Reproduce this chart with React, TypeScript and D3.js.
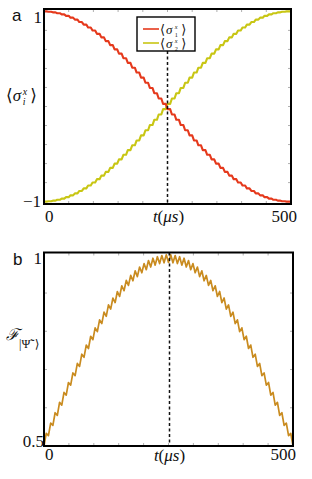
import React from "react";
import * as d3 from "d3";

// ---------- data ----------
const T_END = 500;
const xTicks = [0, 50, 100, 150, 200, 250, 300, 350, 400, 450, 500];
const yTicksA = [-0.8, -0.6, -0.4, -0.2, 0, 0.2, 0.4, 0.6, 0.8];
const yTicksB = [0.6, 0.7, 0.8, 0.9];
const markerT = 250;

// plateau values of the stepped <sigma_1^x> and <sigma_2^x> curves
const sigma1 = [
  1.0, 0.996, 0.99, 0.981, 0.968, 0.953, 0.934, 0.913, 0.888, 0.861,
  0.831, 0.799, 0.764, 0.727, 0.687, 0.645, 0.601, 0.556, 0.508, 0.459,
  0.408, 0.357, 0.304, 0.25, 0.195, 0.14, 0.084, 0.028,
  -0.028, -0.084, -0.14, -0.195, -0.25, -0.304, -0.357, -0.408,
  -0.459, -0.508, -0.556, -0.601, -0.645, -0.687, -0.727, -0.764, -0.799,
  -0.831, -0.861, -0.888, -0.913, -0.934, -0.953, -0.968, -0.981, -0.99,
  -0.996, -1.0,
];
const sigma2 = [
  -1.0, -0.996, -0.99, -0.981, -0.968, -0.953, -0.934, -0.913, -0.888, -0.861,
  -0.831, -0.799, -0.764, -0.727, -0.687, -0.645, -0.601, -0.556, -0.508, -0.459,
  -0.408, -0.357, -0.304, -0.25, -0.195, -0.14, -0.084, -0.028,
  0.028, 0.084, 0.14, 0.195, 0.25, 0.304, 0.357, 0.408,
  0.459, 0.508, 0.556, 0.601, 0.645, 0.687, 0.727, 0.764, 0.799,
  0.831, 0.861, 0.888, 0.913, 0.934, 0.953, 0.968, 0.981, 0.99,
  0.996, 1.0,
];

// fidelity: alternating troughs / peaks of the zig-zag
const fidelity = [
  0.5, 0.533, 0.527, 0.56, 0.554, 0.587, 0.58, 0.614, 0.607, 0.64,
  0.633, 0.666, 0.659, 0.691, 0.684, 0.716, 0.708, 0.74, 0.732, 0.764,
  0.755, 0.787, 0.778, 0.809, 0.799, 0.83, 0.82, 0.85, 0.839, 0.869,
  0.858, 0.887, 0.875, 0.904, 0.891, 0.919, 0.906, 0.933, 0.92, 0.946,
  0.932, 0.958, 0.943, 0.968, 0.953, 0.977, 0.961, 0.985, 0.968, 0.991,
  0.973, 0.995, 0.977, 0.998, 0.979, 1.0, 0.98,
  1.0, 0.979, 0.998, 0.977, 0.995, 0.973, 0.991, 0.968, 0.985, 0.961,
  0.977, 0.953, 0.968, 0.943, 0.958, 0.932, 0.946, 0.92, 0.933, 0.906,
  0.919, 0.891, 0.904, 0.875, 0.887, 0.858, 0.869, 0.839, 0.85, 0.82,
  0.83, 0.799, 0.809, 0.778, 0.787, 0.755, 0.764, 0.732, 0.74, 0.708,
  0.716, 0.684, 0.691, 0.659, 0.666, 0.633, 0.64, 0.607, 0.614, 0.58,
  0.587, 0.554, 0.56, 0.527, 0.533, 0.5,
];

// ---------- styles ----------
const RED = "#e5391c";
const YELLOW = "#c8c614";
const GOLD = "#c98b1f";
const SERIF = "'Liberation Serif', 'DejaVu Serif', serif";
const SANS = "'Liberation Sans', Arial, sans-serif";
const TICK = "#9a9a9a";

const A = { left: 44, right: 291, top: 9, bottom: 204 };
const B = { left: 44, right: 293, top: 252.5, bottom: 446 };

function Ticks({ box, x, y, xt, yt }: any) {
  const L = 3;
  return (
    <g stroke={TICK} strokeWidth={0.8}>
      {xt.map((t: number) => (
        <g key={"x" + t}>
          <line x1={x(t)} x2={x(t)} y1={box.top} y2={box.top + L} />
          <line x1={x(t)} x2={x(t)} y1={box.bottom} y2={box.bottom - L} />
        </g>
      ))}
      {yt.map((v: number) => (
        <g key={"y" + v}>
          <line x1={box.left} x2={box.left + L} y1={y(v)} y2={y(v)} />
          <line x1={box.right} x2={box.right - L} y1={y(v)} y2={y(v)} />
        </g>
      ))}
    </g>
  );
}

function SigmaLabel({ x, y, size, sub, gap = 1, scr = 0.58 }: any) {
  const s = size;
  return (
    <g fontFamily={SERIF} fill="#111">
      <text x={x} y={y} fontSize={s}>⟨</text>
      <text x={x + s * 0.4 * gap} y={y} fontSize={s} fontStyle="italic">σ</text>
      <text x={x + s * 0.98 * gap} y={y - s * 0.38} fontSize={s * scr} fontStyle="italic">x</text>
      <text x={x + s * 0.98 * gap} y={y + s * 0.24} fontSize={s * scr} fontStyle={sub === "i" ? "italic" : "normal"}>{sub}</text>
      <text x={x + s * 1.42 * gap} y={y} fontSize={s}>⟩</text>
    </g>
  );
}

export default function App() {
  const xA = d3.scaleLinear().domain([0, T_END]).range([A.left, A.right]);
  const yA = d3.scaleLinear().domain([-1.025, 1.025]).range([A.bottom, A.top]);
  const xB = d3.scaleLinear().domain([0, T_END]).range([B.left, B.right]);
  const yB = d3.scaleLinear().domain([0.5, 1.006]).range([B.bottom, B.top]);

  // staircase with sloped risers: plateau for part of each step, then a ramp
  const stepPts = (vals: number[]) => {
    const P = T_END / vals.length;
    const pts: [number, number][] = [];
    vals.forEach((v, k) => {
      pts.push([k * P, v]);
      pts.push([(k + 0.6) * P, v]);
    });
    pts.push([T_END, vals[vals.length - 1]]);
    return pts;
  };
  const stepLine = d3
    .line<[number, number]>()
    .x((d) => xA(d[0]))
    .y((d) => yA(d[1]))
    .curve(d3.curveLinear);

  const fidLine = d3
    .line<number>()
    .x((_, j) => xB((j * T_END) / (fidelity.length - 1)))
    .y((d) => yB(d));

  const legend = { x: 137, y: 17, w: 58, h: 34 };

  return (
    <svg
      width={312}
      height={479}
      style={{ position: "absolute", left: 0, top: 0, background: "#fff" }}
    >
      <rect width={312} height={479} fill="#fff" />

      <defs>
        <clipPath id="clipA">
          <rect x={A.left} y={A.top} width={A.right - A.left} height={A.bottom - A.top} />
        </clipPath>
        <clipPath id="clipB">
          <rect x={B.left} y={B.top - 1} width={B.right - B.left} height={B.bottom - B.top + 1} />
        </clipPath>
      </defs>

      {/* ---------- panel a ---------- */}
      <Ticks box={A} x={xA} y={yA} xt={xTicks} yt={yTicksA} />
      <g clipPath="url(#clipA)">
        <path d={stepLine(stepPts(sigma2)) || ""} fill="none" stroke={YELLOW} strokeWidth={2.1} strokeLinejoin="round" />
        <path d={stepLine(stepPts(sigma1)) || ""} fill="none" stroke={RED} strokeWidth={2.1} strokeLinejoin="round" />
      </g>
      <line
        x1={xA(markerT)} x2={xA(markerT)}
        y1={legend.y + legend.h} y2={A.bottom}
        stroke="#111" strokeWidth={1.5} strokeDasharray="3,2.5"
      />
      <rect x={A.left} y={A.top} width={A.right - A.left} height={A.bottom - A.top} fill="none" stroke="#000" strokeWidth={2} />

      {/* legend */}
      <rect x={legend.x} y={legend.y} width={legend.w} height={legend.h} fill="#fff" stroke="#000" strokeWidth={1.4} />
      <line x1={143} x2={159} y1={29} y2={29} stroke={RED} strokeWidth={1.6} />
      <line x1={143} x2={159} y1={43} y2={43} stroke={YELLOW} strokeWidth={1.6} />
      <SigmaLabel x={160} y={33.5} size={13} sub="1" gap={1.15} scr={0.48} />
      <SigmaLabel x={160} y={47.5} size={13} sub="2" gap={1.15} scr={0.48} />

      {/* labels a */}
      <text x={12} y={21} fontFamily={SANS} fontSize={17} fill="#111">a</text>
      <SigmaLabel x={6} y={101} size={17} sub="i" />
      <g fontFamily={SERIF} fontSize={17} fill="#111">
        <text x={42} y={23} textAnchor="end">1</text>
        <text x={41} y={207} textAnchor="end">−1</text>
        <text x={xA(0) + 1} y={222}>0</text>
        <text x={297} y={222} textAnchor="end">500</text>
        <text x={xA(markerT) + 1} y={222} textAnchor="middle">
          <tspan fontStyle="italic">t</tspan>(<tspan fontStyle="italic">μs</tspan>)
        </text>
      </g>

      {/* ---------- panel b ---------- */}
      <Ticks box={B} x={xB} y={yB} xt={xTicks} yt={yTicksB} />
      <g clipPath="url(#clipB)">
        <path d={fidLine(fidelity) || ""} fill="none" stroke={GOLD} strokeWidth={1.7} strokeLinejoin="round" />
      </g>
      <line
        x1={xB(markerT) + 1} x2={xB(markerT) + 1}
        y1={B.top} y2={B.bottom}
        stroke="#111" strokeWidth={1.5} strokeDasharray="3,2.5"
      />
      <rect x={B.left} y={B.top} width={B.right - B.left} height={B.bottom - B.top} fill="none" stroke="#000" strokeWidth={2} />

      <text x={13} y={265} fontFamily={SANS} fontSize={17} fill="#111">b</text>
      <g fill="#111">
        <text x={6} y={340} fontFamily="'DejaVu Serif', serif" fontSize={16} fontStyle="italic">ℱ</text>
        <text x={19} y={348} fontFamily={SERIF} fontSize={12}>
          |Ψ̃<tspan dy={-5} fontSize={8}>−</tspan><tspan dy={5}>⟩</tspan>
        </text>
      </g>
      <g fontFamily={SERIF} fontSize={17} fill="#111">
        <text x={42} y={264} textAnchor="end">1</text>
        <text x={44} y={447} textAnchor="end">0.5</text>
        <text x={xB(0) + 1} y={460}>0</text>
        <text x={296} y={460} textAnchor="end">500</text>
        <text x={xB(markerT) + 1} y={461} textAnchor="middle">
          <tspan fontStyle="italic">t</tspan>(<tspan fontStyle="italic">μs</tspan>)
        </text>
      </g>
    </svg>
  );
}
